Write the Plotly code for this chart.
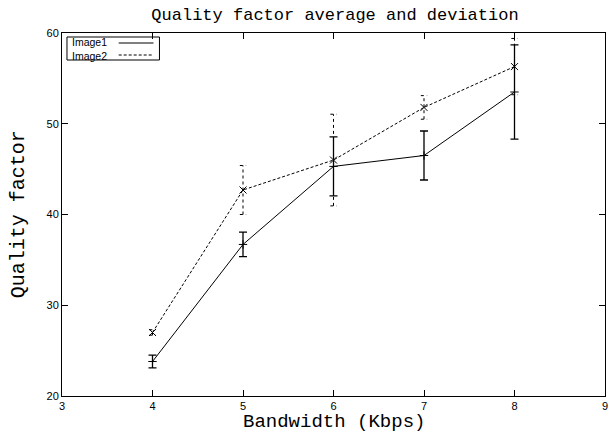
import plotly.graph_objects as go

bandwidth = [4, 5, 6, 7, 8]
image1_mean = [23.8, 36.7, 45.3, 46.5, 53.5]
image1_dev = [0.7, 1.35, 3.25, 2.7, 5.2]
image2_mean = [27.0, 42.7, 46.0, 51.8, 56.3]
image2_dev = [0.3, 2.7, 5.05, 1.3, 3.1]
x_ticks = [3, 4, 5, 6, 7, 8, 9]
y_ticks = [20, 30, 40, 50, 60]

MONO = "Liberation Mono, Courier New, monospace"
SANS = "Liberation Sans, Arial, sans-serif"

W, H = 609, 432
L, R, T, B = 62, 1, 33, 36
PW, PH = W - L - R, H - T - B


def px(x):
    return (x - L) / PW


def py(y):
    return (H - B - y) / PH


fig = go.Figure()

# Image2 dotted error bars (built from data)
cap = 0.035
ex, ey = [], []
for x, m, d in zip(bandwidth, image2_mean, image2_dev):
    ex += [x, x, None, x - cap, x + cap, None, x - cap, x + cap, None]
    ey += [m - d, m + d, None, m - d, m - d, None, m + d, m + d, None]
fig.add_trace(go.Scatter(x=ex, y=ey, mode="lines",
                         line=dict(color="black", width=1, dash="dot"),
                         hoverinfo="skip", showlegend=False))

fig.add_trace(go.Scatter(
    x=bandwidth, y=image1_mean, mode="lines+markers", name="Image1",
    line=dict(color="black", width=1),
    marker=dict(symbol="cross-thin", size=6, color="black",
                line=dict(color="black", width=1)),
    error_y=dict(type="data", array=image1_dev, visible=True,
                 color="black", thickness=1.3, width=4),
    showlegend=False))

fig.add_trace(go.Scatter(
    x=bandwidth, y=image2_mean, mode="lines+markers", name="Image2",
    line=dict(color="black", width=1, dash="3px,2px"),
    marker=dict(symbol="x-thin", size=7, color="black",
                line=dict(color="black", width=1)),
    showlegend=False))

# custom gnuplot-style legend (text left, sample right)
shapes = [
    dict(type="rect", xref="paper", yref="paper",
         x0=px(67), x1=px(160), y0=py(60), y1=py(37),
         line=dict(color="black", width=1)),
    dict(type="line", xref="paper", yref="paper",
         x0=px(119), x1=px(154), y0=py(43), y1=py(43),
         line=dict(color="black", width=1)),
    dict(type="line", xref="paper", yref="paper",
         x0=px(119), x1=px(154), y0=py(55), y1=py(55),
         line=dict(color="black", width=1, dash="3px,2px")),
]
annotations = [
    dict(text="Image1<br>Image2", xref="paper", yref="paper", align="left",
         x=px(70), y=py(49), xanchor="left", yanchor="middle",
         showarrow=False, font=dict(family=SANS, size=10.5, color="black")),
    dict(text="Bandwidth (Kbps)", xref="paper", yref="paper",
         x=0.5, y=py(422), xanchor="center", yanchor="middle",
         showarrow=False, font=dict(family=MONO, size=19, color="black")),
    dict(text="Quality factor", xref="paper", yref="paper",
         x=px(18), y=py(214), xanchor="center", yanchor="middle", textangle=-90,
         showarrow=False, font=dict(family=MONO, size=20, color="black")),
]

fig.update_layout(
    width=W, height=H,
    margin=dict(l=L, r=R, t=T, b=B),
    paper_bgcolor="white", plot_bgcolor="white",
    title=dict(text="Quality factor average and deviation",
               x=(L + PW / 2) / W, xanchor="center", y=1 - 14 / H, yanchor="middle",
               font=dict(family=MONO, size=17, color="black")),
    xaxis=dict(range=[3, 9], tickvals=x_ticks, ticktext=[str(v) for v in x_ticks],
               ticks="inside", ticklen=6, tickcolor="black", mirror="ticks",
               showline=True, linecolor="black", linewidth=1, showgrid=False,
               zeroline=False, ticklabeloverflow="allow",
               tickfont=dict(family=SANS, size=11, color="black")),
    yaxis=dict(range=[20, 60], tickvals=y_ticks, ticktext=[str(v) for v in y_ticks],
               ticks="inside", ticklen=6, tickcolor="black", mirror="ticks",
               showline=True, linecolor="black", linewidth=1, showgrid=False,
               zeroline=False, tickfont=dict(family=SANS, size=11, color="black")),
    shapes=shapes, annotations=annotations,
)

fig.write_html("out.html", config={"displayModeBar": False},
               post_script="document.body.style.margin='0';document.body.style.overflow='hidden';")
